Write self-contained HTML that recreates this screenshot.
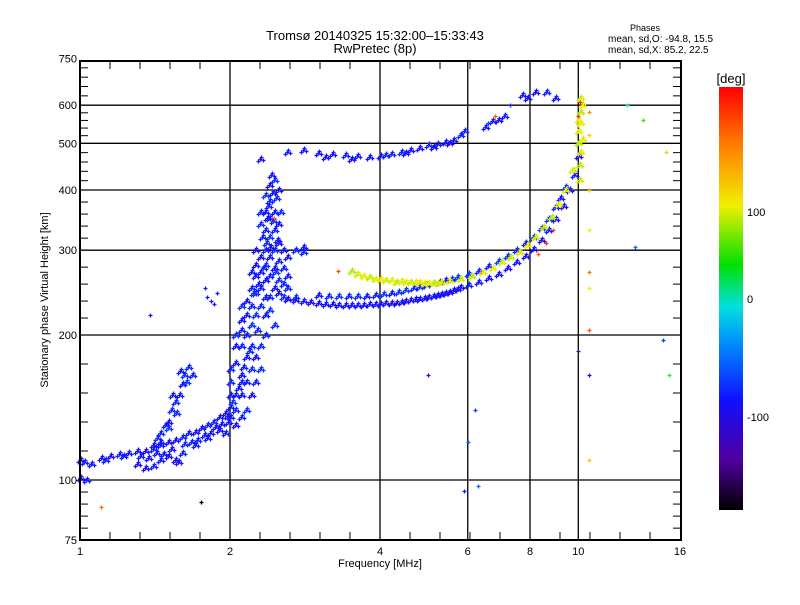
<!DOCTYPE html>
<html><head><meta charset="utf-8"><style>
body{margin:0;background:#fff;}
svg text{font-family:"Liberation Sans",sans-serif;fill:#000;}
</style></head><body>
<svg id="chart" width="800" height="600" xmlns="http://www.w3.org/2000/svg">
<defs>
<linearGradient id="cb" x1="0" y1="0" x2="0" y2="1">
<stop offset="0" stop-color="#ff0000"/><stop offset="0.14" stop-color="#ff8000"/>
<stop offset="0.28" stop-color="#f0f000"/><stop offset="0.42" stop-color="#00e000"/>
<stop offset="0.52" stop-color="#00e0e0"/><stop offset="0.62" stop-color="#0080ff"/>
<stop offset="0.74" stop-color="#1010ff"/><stop offset="0.88" stop-color="#5000a0"/>
<stop offset="1" stop-color="#000000"/></linearGradient>
</defs>
<text x="375" y="40" font-size="13" text-anchor="middle">Tromsø 20140325 15:32:00–15:33:43</text>
<text x="375" y="53" font-size="13" text-anchor="middle">RwPretec (8p)</text>
<text x="645" y="31" font-size="9" text-anchor="middle">Phases</text>
<text x="608" y="42" font-size="10">mean, sd,O: -94.8, 15.5</text>
<text x="608" y="53" font-size="10">mean, sd,X:  85.2, 22.5</text>
<g id="grid"></g>
<g id="pts"></g>
<rect x="80" y="61" width="601" height="479" fill="none" stroke="#000" stroke-width="2"/>
<g id="ticks"></g>
<text x="380" y="567" font-size="11" text-anchor="middle">Frequency [MHz]</text>
<text x="48" y="300" font-size="11" text-anchor="middle" transform="rotate(-90 48 300)">Stationary phase Virtual Height [km]</text>
<rect x="719" y="87" width="24" height="423" fill="url(#cb)"/>
<text x="731" y="83" font-size="13" text-anchor="middle">[deg]</text>
<text x="747" y="216" font-size="11">100</text>
<text x="747" y="303" font-size="11">0</text>
<text x="747" y="421" font-size="11">-100</text>
</svg>
<script>
const xTicks=[1,2,4,6,8,10,16];
const yTicks=[75,100,200,300,400,500,600,750];
// traces: frequency (MHz), height (km), phase (deg)
const eLowF=[1.0,1.02,1.05,1.1,1.15,1.2,1.25,1.3,1.35,1.4,1.45,1.5,1.55,1.6,1.65,1.7,1.75,1.8,1.85,1.9,1.95,2.0,2.05,2.1,1.3,1.35,1.4,1.45,1.5,1.55,1.6,1.7,1.8,1.9,2.0,1.32,1.42,1.52,1.62,1.72,1.82,1.92,1.0,1.03,1.37,1.47,1.57,1.67,1.77,1.87,1.97,1.12,1.22];
const eLowH=[110,109,108,111,112,113,114,115,115,116,118,120,121,123,125,126,128,130,132,135,138,142,150,160,108,106,107,110,112,110,114,118,122,127,135,112,114,116,119,121,125,131,101,100,111,113,109,120,124,129,136,110,112];
const eLowP=-100;
const eRiseF=[1.4,1.43,1.45,1.48,1.5,1.52,1.55,1.58,1.6,1.62,1.65,1.68,1.45,1.5,1.56,1.53,1.59,1.63];
const eRiseH=[118,122,125,130,132,140,145,150,158,165,172,165,120,128,138,150,168,160];
const eRiseP=-95;
const cuspF=[2.0,2.0,2.0,2.05,2.05,2.05,2.1,2.1,2.1,2.1,2.15,2.15,2.15,2.2,2.2,2.2,2.2,2.25,2.25,2.25,2.25,2.25,2.3,2.3,2.3,2.3,2.3,2.3,2.35,2.35,2.35,2.35,2.35,2.35,2.35,2.4,2.4,2.4,2.4,2.4,2.4,2.45,2.45,2.45,2.45,2.45,2.5,2.5,2.5,2.5,2.5,2.55,2.55,2.55,2.55,2.6,2.6,2.6,2.6,2.7,2.7,2.8,2.8,2.05,2.05,2.1,2.1,2.1,2.15,2.15,2.15,2.2,2.2,2.2,2.25,2.25,2.3,2.3,2.35,2.35,2.4,2.45,1.95,1.98,2.4,2.45,2.38,2.42,2.43,2.47,2.44,2.48,2.5,2.52,2.36,2.32,2.28,2.22,2.18,2.12,2.08,2.02,2.27,2.33,2.37,2.41,2.46];
const cuspH=[150,160,170,175,190,200,190,205,215,230,200,220,235,210,230,250,270,220,245,265,280,300,230,250,270,290,340,360,240,260,280,300,330,360,390,240,265,290,320,350,380,250,275,300,330,360,245,260,285,310,340,240,255,275,300,238,250,265,290,240,300,298,305,130,140,135,150,165,140,160,180,150,170,190,160,180,170,190,200,220,225,210,125,132,410,420,370,430,395,385,345,315,400,360,310,320,255,245,185,172,155,145,205,275,350,305,270];
const cuspP=-95;
const f2oF=[2.6,2.8,3.0,3.2,3.4,3.6,3.8,4.0,4.2,4.4,4.6,4.8,5.0,5.2,5.4,5.6,5.8,6.0,6.3,6.6,6.9,7.2,7.5,7.8,8.1,8.4,8.7,9.0,9.3,9.6,9.8,10.0,2.7,2.9,3.1,3.3,3.5,3.7,3.9,4.1,4.3,4.5,4.7,4.9,5.1,5.3,5.5,5.7];
const f2oH=[237,235,233,232,231,231,232,232,233,234,236,238,240,242,245,248,251,254,258,263,268,275,283,292,302,315,330,348,370,400,430,470,236,234,232,231,231,231,232,233,233,235,237,239,241,243,246,249];
const f2oP=-105;
const f2bF=[3.0,3.3,3.6,3.9,4.2,4.5,4.8,5.1,5.4,5.7,6.0,6.3,6.6,6.9,7.2,7.5,7.8,8.1,8.4,8.7,9.0,9.2,9.4,3.15,3.45,3.75,4.05,4.35,4.65,4.95,5.25,5.55];
const f2bH=[242,241,241,242,245,248,252,256,260,264,268,272,278,285,292,300,310,320,333,348,368,385,405,241,241,241,243,246,250,254,258,262];
const f2bP=-90;
const f2xF=[3.5,3.7,3.9,4.1,4.3,4.5,4.7,4.9,5.1,5.3,5.5,5.8,6.1,6.4,6.7,7.0,7.3,7.6,7.9,8.2,8.5,8.8,9.1,9.4,9.7,10.0,10.1,10.15,10.1,10.05,10.1,10.0,3.6,3.8,4.0,4.2,4.4,4.6,4.8,5.0,5.2,10.05,10.1,10.0,10.15];
const f2xH=[272,265,262,260,258,258,258,257,257,258,259,261,265,270,276,283,290,298,308,320,335,352,375,400,440,500,550,600,620,450,480,530,268,264,262,260,259,258,258,257,257,420,580,560,510];
const f2xP=95;
const xRedF=[8.3,8.6,8.9,3.3,2.45,10.1,10.0];
const xRedH=[295,310,330,272,350,610,570];
const xRedP=160;
const upperF=[2.3,2.6,2.8,3.0,3.2,3.4,3.6,3.8,4.0,4.2,4.4,4.6,4.8,5.0,5.2,5.4,5.6,5.8,5.9,6.5,6.7,6.9,7.1,7.7,7.9,8.2,8.6,9.0,3.1,3.5,4.1,4.5,5.1,5.5];
const upperH=[465,480,485,478,475,472,470,468,470,475,480,485,490,495,498,502,508,520,530,540,555,560,570,630,620,640,640,620,468,465,472,478,492,500];
const upperP=-100;
const miscF=[1.78,1.8,1.83,1.86,1.88,5.9,6.0,6.2,6.3,5.0,10.0,10.5,10.5,12.5,13.5,13.0,14.8,15.0,15.2,1.75,1.1,10.5,10.5,10.5,10.5,10.5,10.5,10.5,6.6,6.8,7.3,1.38];
const miscH=[250,240,235,232,245,95,120,140,97,165,185,165,110,600,560,305,195,480,165,90,88,580,520,400,330,270,250,205,550,570,600,220];
const miscP=[-100,-100,-100,-100,-100,-100,-60,-80,-60,-110,-150,-110,110,20,50,-60,-80,110,30,-200,140,130,110,120,100,140,100,150,-80,150,-90,-100];

const NS='http://www.w3.org/2000/svg';
function xs(f){return 80+150*Math.log2(f);}
function ys(h){return 480-145*Math.log2(h/100);}
function col(p){
  const stops=[[180,[255,0,0]],[150,[255,90,0]],[100,[235,240,0]],[50,[60,230,0]],[0,[0,225,225]],[-60,[0,110,255]],[-100,[20,20,255]],[-150,[80,0,170]],[-200,[0,0,0]]];
  if(p>=stops[0][0])return 'rgb(255,0,0)';
  for(let i=0;i<stops.length-1;i++){const a=stops[i],b=stops[i+1];
    if(p<=a[0]&&p>=b[0]){const t=(a[0]-p)/(a[0]-b[0]);
      return 'rgb('+a[1].map((v,k)=>Math.round(v+(b[1][k]-v)*t)).join(',')+')';}}
  return '#000';
}
function line(g,x1,y1,x2,y2,w){const l=document.createElementNS(NS,'line');
  l.setAttribute('x1',x1);l.setAttribute('y1',y1);l.setAttribute('x2',x2);l.setAttribute('y2',y2);
  l.setAttribute('stroke','#000');l.setAttribute('stroke-width',w);g.appendChild(l);return l;}
function txt(g,x,y,s,anchor){const t=document.createElementNS(NS,'text');
  t.setAttribute('x',x);t.setAttribute('y',y);t.setAttribute('font-size','11');t.setAttribute('text-anchor',anchor);
  t.textContent=s;g.appendChild(t);return t;}
const grid=document.getElementById('grid'),ticks=document.getElementById('ticks'),pts=document.getElementById('pts');
xTicks.forEach((f,i)=>{const x=xs(f);
  if(i>0&&i<xTicks.length-1){const l=line(grid,x,61,x,540,1.3);
    
    }
  const t=txt(ticks,x,555,String(f),'middle');
  
  
});
for(let x=110;x<680;x+=30){if((x-80)%150===0)continue;
  const a=line(ticks,x,540,x,532,1);
  
  
  const b=line(ticks,x,61,x,69,1);
  
  }
yTicks.forEach((h,i)=>{const y=ys(h);
  if(i>0&&i<yTicks.length-1){const l=line(grid,80,y,681,y,1.3);
    
    }
  const t=txt(ticks,77,y+4,String(h),'end');
  
  
  if(i<yTicks.length-1){const y2=ys(yTicks[i+1]);
    for(let k=1;k<5;k++){const yy=y+(y2-y)*k/5;
      const a=line(ticks,80,yy,88,yy,1);
      
      
      const b=line(ticks,681,yy,673,yy,1);
      
      }}
});
// each trace sample is drawn as a small cluster of '+' marks (multiple pulses per sample)
const clusterOffsets=[[0,0],[3,1],[-2,2],[1,-2]];
function plot(F,H,P,name,cluster){
  const offs=cluster?clusterOffsets:[[0,0]];
  for(let i=0;i<F.length;i++){const x=Math.round(xs(F[i])),y=Math.round(ys(H[i]));
    const p=Array.isArray(P)?P[i]:P+((i*37)%21-10);
    let d='';
    offs.forEach(o=>{const xx=x+o[0]+0.5,yy=y+o[1]+0.5;
      d+='M'+(xx-2)+' '+yy+'h4M'+xx+' '+(yy-2)+'v4';});
    const g=document.createElementNS(NS,'path');
    g.setAttribute('d',d);
    g.setAttribute('stroke',col(p));g.setAttribute('stroke-width','1.3');
    
    
    pts.appendChild(g);}
}
plot(eLowF,eLowH,eLowP,'e-layer-point',true);
plot(eRiseF,eRiseH,eRiseP,'e-rise-point',true);
plot(cuspF,cuspH,cuspP,'cusp-point',true);
plot(f2oF,f2oH,f2oP,'f2-o-trace-point',true);
plot(f2bF,f2bH,f2bP,'f2-o-upper-point',true);
plot(f2xF,f2xH,f2xP,'f2-x-trace-point',true);
plot(xRedF,xRedH,xRedP,'x-red-point',false);
plot(upperF,upperH,upperP,'multihop-point',true);
plot(miscF,miscH,miscP,'scatter-point',false);
</script>
</body></html>
